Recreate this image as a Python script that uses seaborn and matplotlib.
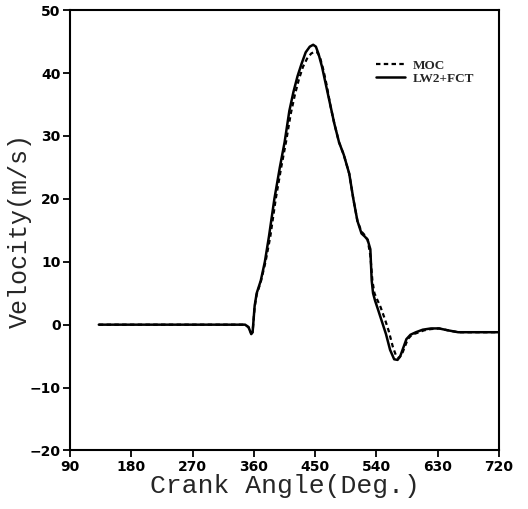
import matplotlib
matplotlib.use("Agg")
import matplotlib.pyplot as plt
import seaborn as sns
import pandas as pd

# --- data ---
angle_fct = [132, 200, 300, 347, 352, 356, 358, 361, 364, 370, 376, 382, 390, 398,
             405, 412, 418, 424, 430, 436, 442, 447, 451, 455, 460, 466, 472, 478,
             485, 492, 500, 506, 512, 518, 523, 527, 531, 533, 535, 538, 542, 548,
             554, 560, 566, 571, 575, 579, 584, 590, 598, 608, 620, 632, 645, 660,
             690, 720]
vel_fct = [0, 0, 0, 0, -0.4, -1.5, -1.2, 3, 5, 7, 10, 14, 20, 25,
           29, 34, 37, 39.5, 41.5, 43.3, 44.2, 44.5, 44.2, 43, 41, 38, 35, 32,
           29, 27, 24, 20, 16.5, 14.5, 14, 13.5, 12, 7, 5, 3.8, 2.5, 0.5,
           -1.5, -4, -5.5, -5.6, -5, -3.8, -2.3, -1.6, -1.2, -0.8, -0.6, -0.6, -0.9, -1.2,
           -1.2, -1.2]

angle_moc = [132, 200, 300, 347, 352, 356, 358, 361, 364, 370, 377, 384, 392, 400,
             407, 414, 420, 426, 432, 438, 444, 449, 453, 457, 462, 467, 472, 478,
             485, 492, 500, 506, 512, 518, 523, 527, 531, 534, 537, 541, 546, 552,
             558, 564, 569, 573, 577, 581, 586, 592, 600, 610, 620, 632, 645, 660,
             690, 720]
vel_moc = [0, 0, 0, 0, -0.4, -1.4, -1.2, 2.8, 4.8, 6.8, 10, 14, 20, 25,
           29, 33.5, 36.5, 39, 41, 42.3, 43.1, 43.4, 43.3, 42.5, 40.5, 38, 35, 32,
           29, 27, 24, 20, 16.5, 14.8, 14.2, 13.5, 11, 7, 5, 4, 2.8, 1,
           -1, -3.5, -5, -5.3, -4.8, -3.7, -2.3, -1.6, -1.3, -0.9, -0.7, -0.6, -0.9, -1.2,
           -1.2, -1.2]

x_ticks = [90, 180, 270, 360, 450, 540, 630, 720]
y_ticks = [-20, -10, 0, 10, 20, 30, 40, 50]

df_moc = pd.DataFrame({"angle": angle_moc, "velocity": vel_moc})
df_fct = pd.DataFrame({"angle": angle_fct, "velocity": vel_fct})

sns.set_style("ticks")

fig = plt.figure(figsize=(5.28, 5.09), dpi=100)
ax = fig.add_axes([0.133, 0.115, 0.812, 0.865])

sns.lineplot(data=df_moc, x="angle", y="velocity", ax=ax, color="black",
             linewidth=1.6, linestyle=(0, (2, 1.5)), label="MOC", estimator=None, sort=False)
sns.lineplot(data=df_fct, x="angle", y="velocity", ax=ax, color="black",
             linewidth=1.8, label="LW2+FCT", estimator=None, sort=False)

ax.set_xlim(90, 720)
ax.set_ylim(-20, 50)
ax.set_xticks(x_ticks)
ax.set_yticks(y_ticks)
for lab in ax.get_xticklabels() + ax.get_yticklabels():
    lab.set_fontweight("bold")
    lab.set_fontsize(10)
    lab.set_family("DejaVu Sans")
ax.tick_params(direction="out", length=5, width=1.3, pad=2, colors="black")

for sp in ax.spines.values():
    sp.set_visible(True)
    sp.set_linewidth(1.5)
    sp.set_color("black")

ax.set_xlabel("Crank Angle(Deg.)", family="Liberation Mono", fontsize=19, labelpad=0)
ax.set_ylabel("Velocity(m/s)", family="Liberation Mono", fontsize=18)
ax.yaxis.set_label_coords(-0.09, 0.5)

leg = ax.legend(loc="upper right", bbox_to_anchor=(0.97, 0.915), frameon=False,
                handlelength=2.2, handletextpad=0.6, labelspacing=0.05,
                prop={"family": "Liberation Serif", "weight": "bold", "size": 9.5})

fig.savefig("out.png", dpi=100)
